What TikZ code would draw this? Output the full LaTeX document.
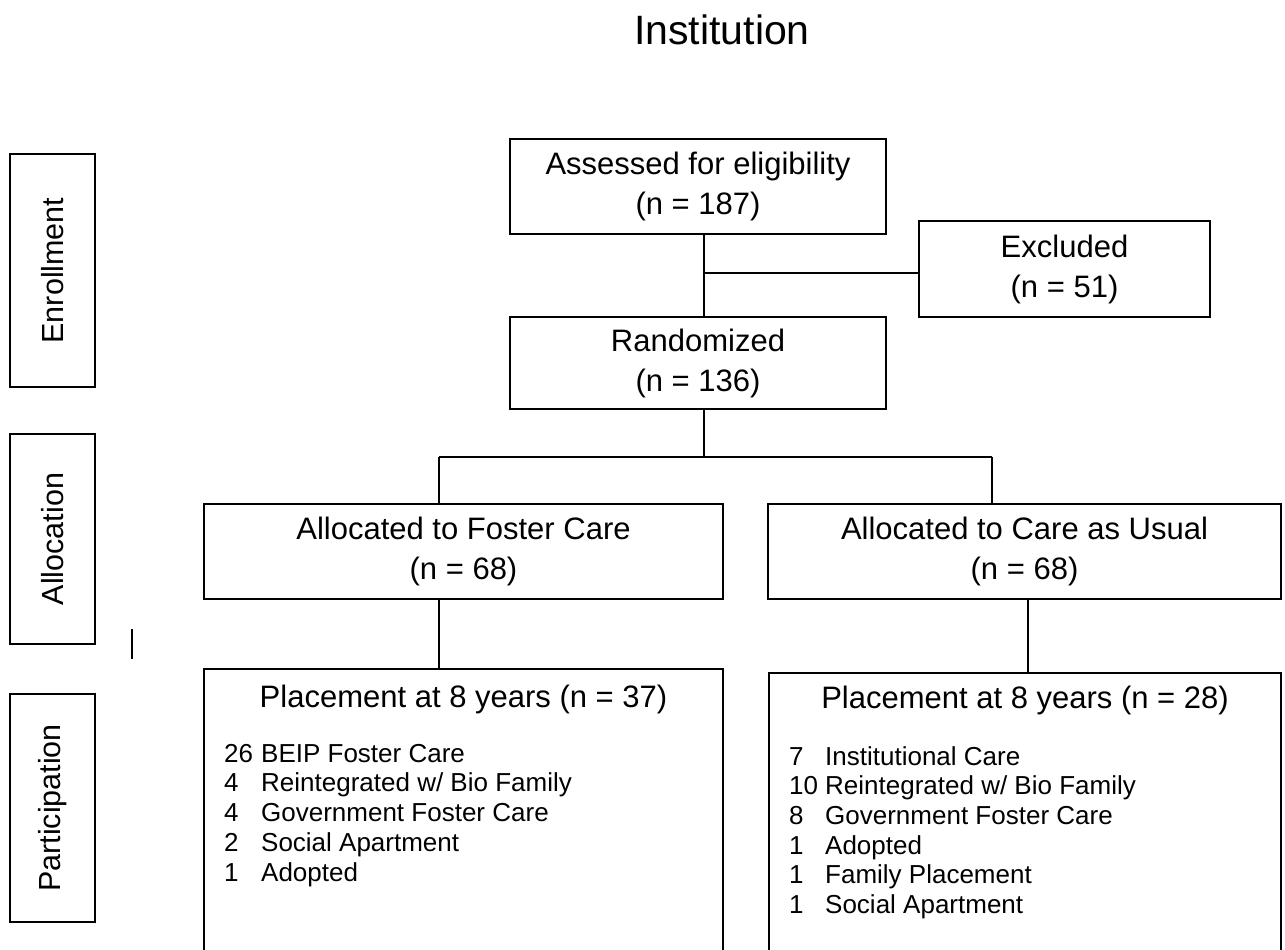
\documentclass[tikz,border=0pt]{standalone}
\usepackage{fontspec}
\setmainfont{Liberation Sans}
\begin{document}
\begin{tikzpicture}[x=1pt,y=1pt,
  box/.style={draw=black, line width=1.8pt, inner sep=0pt, align=center, font=\fontsize{31}{40}\selectfont},
  lab/.style={draw=black, line width=1.8pt, inner sep=0pt, rotate=90, font=\fontsize{30.5}{36}\selectfont, minimum height=85pt},
  conn/.style={line width=1.8pt, black},
  head/.style={anchor=base, inner sep=0pt, font=\fontsize{31}{40}\selectfont},
  item/.style={anchor=base west, inner sep=0pt, font=\fontsize{26}{30}\selectfont},
]
\clip (0,0) rectangle (1285,-950);
\fill[white] (0,0) rectangle (1285,-950);

\node[anchor=base, inner sep=0pt, font=\fontsize{41}{48}\selectfont] (title) at (722,-45) {Institution};

% phase labels
\node[lab, minimum width=233pt] (enr) at (52.5,-270.5) {Enrollment};
\node[lab, minimum width=210pt] (alc) at (52.5,-539) {Allocation};
\node[lab, minimum width=228pt] (par) at (52.5,-808) {Participation};

% boxes
\node[box, minimum width=376pt, minimum height=95pt] (ass) at (698,-186.5) {Assessed for eligibility\\(n = 187)};
\node[box, minimum width=291pt, minimum height=96pt] (excl) at (1064.5,-269) {Excluded\\(n = 51)};
\node[box, minimum width=376pt, minimum height=92pt] (rand) at (698,-363) {Randomized\\(n = 136)};
\node[box, minimum width=519pt, minimum height=95pt] (fost) at (463.5,-551.5) {Allocated to Foster Care\\(n = 68)};
\node[box, minimum width=513pt, minimum height=95pt] (usual) at (1024.5,-551.5) {Allocated to Care as Usual\\(n = 68)};

\node[draw=black, line width=1.8pt, inner sep=0pt, minimum width=519pt, minimum height=330pt, anchor=north] (pl) at (463.5,-668) {};
\node[draw=black, line width=1.8pt, inner sep=0pt, minimum width=512pt, minimum height=330pt, anchor=north] (pr) at (1025,-672) {};

\node[head] (plh) at (463.5,-707) {Placement at 8 years (n = 37)};
\node[head] (prh) at (1025,-708) {Placement at 8 years (n = 28)};

\foreach \n/\t [count=\i from 0] in {26/{BEIP Foster Care}, 4/{Reintegrated w/ Bio Family}, 4/{Government Foster Care}, 2/{Social Apartment}, 1/{Adopted}}
  \node[item] (li\i) at (224,-762-29.75*\i) {\makebox[37pt][l]{\n}\t};

\foreach \n/\t [count=\i from 0] in {7/{Institutional Care}, 10/{Reintegrated w/ Bio Family}, 8/{Government Foster Care}, 1/{Adopted}, 1/{Family Placement}, 1/{Social Apartment}}
  \node[item] (ri\i) at (789,-765-29.7*\i) {\makebox[36pt][l]{\n}\t};

% connectors
\coordinate (jx) at (704,-273);
\coordinate (jr) at (704,-457);
\coordinate (jl) at (439,-457);
\coordinate (jq) at (992,-457);
\coordinate (bl) at (439,0);
\coordinate (br) at (1028,0);
\draw[conn] (ass.south -| jx) -- (rand.north -| jx);
\draw[conn] (jx) -- (excl.west |- jx);
\draw[conn] (rand.south -| jr) -- (jr);
\draw[conn] (jl) -- (jq);
\draw[conn] (jl) -- (fost.north -| jl);
\draw[conn] (jq) -- (usual.north -| jq);
\draw[conn] (fost.south -| bl) -- (pl.north -| bl);
\draw[conn] (usual.south -| br) -- (pr.north -| br);

% stray mark
\coordinate (s1) at (132,-629);
\coordinate (s2) at (132,-659);
\draw[conn] (s1) -- (s2);
\end{tikzpicture}
\end{document}
